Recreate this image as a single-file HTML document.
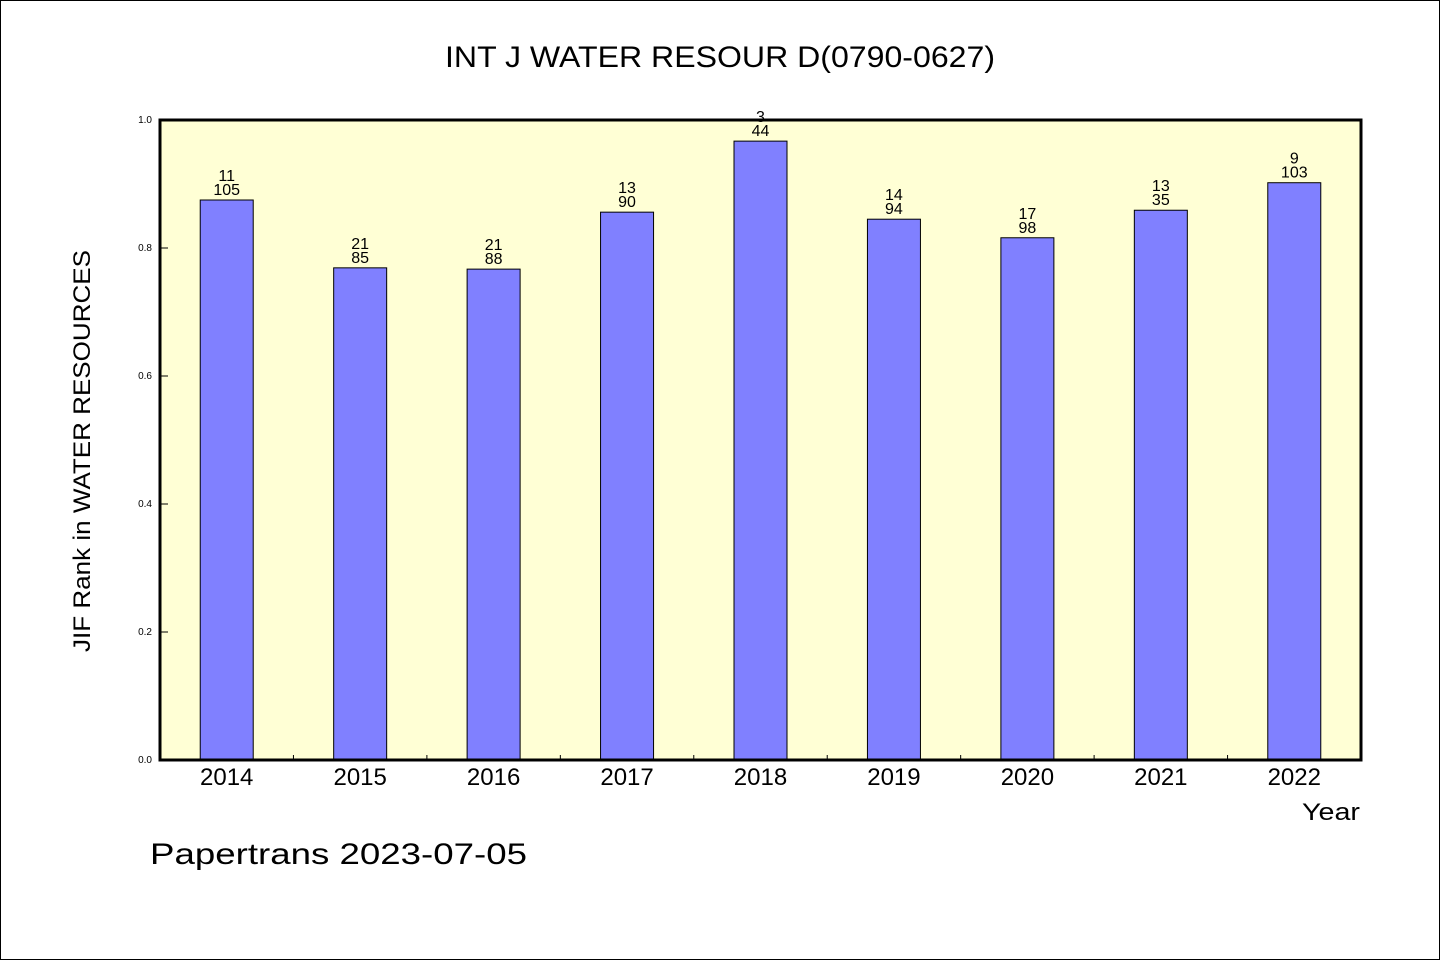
<!DOCTYPE html>
<html><head><meta charset="utf-8"><style>
html,body{margin:0;padding:0;background:#fff}
svg{display:block;font-family:"Liberation Sans","WenQuanYi Zen Hei",sans-serif}
</style></head><body>
<svg id="chart" width="1440" height="960" viewBox="0 0 1440 960">
<rect x="0.5" y="0.5" width="1439" height="959" fill="#fff" stroke="#000"/>
<text x="720" y="67" text-anchor="middle" font-size="30" textLength="550" lengthAdjust="spacingAndGlyphs">INT J WATER RESOUR D(0790-0627)</text>
<rect x="160" y="120" width="1201" height="640" fill="#ffffd5"/>
<g id="bars"></g>
<g id="yaxis"></g>
<g id="xaxis"></g>
<rect x="160" y="120" width="1201" height="640" fill="none" stroke="#000" stroke-width="3"/>
<text transform="translate(90,451) rotate(-90)" text-anchor="middle" font-size="24" textLength="402" lengthAdjust="spacingAndGlyphs">JIF Rank in WATER RESOURCES</text>
<text x="1360" y="820" text-anchor="end" font-size="24" textLength="58" lengthAdjust="spacingAndGlyphs">Year</text>
<text x="150" y="864" font-size="30" textLength="377" lengthAdjust="spacingAndGlyphs">Papertrans 2023-07-05</text>
</svg>
<script>
const years=["2014","2015","2016","2017","2018","2019","2020","2021","2022"];
const values=[0.875,0.769,0.767,0.856,0.967,0.845,0.816,0.859,0.902];
const ranks=["11","21","21","13","3","14","17","13","9"];
const totals=["105","85","88","90","44","94","98","35","103"];
const yTicks=[0,0.2,0.4,0.6,0.8,1.0];
const NS="http://www.w3.org/2000/svg";
const X0=160,W=1201,Y0=760,H=640;
const band=W/years.length;
const xc=i=>X0+band*(i+0.5);
const yv=v=>Y0-v*H;
function mk(tag,attrs,parent,txt){const e=document.createElementNS(NS,tag);for(const k in attrs)e.setAttribute(k,attrs[k]);if(txt!==undefined)e.textContent=txt;parent.appendChild(e);return e;}
const gb=document.getElementById('bars'),gy=document.getElementById('yaxis'),gx=document.getElementById('xaxis');
const bw=53;
years.forEach((yr,i)=>{
  const top=yv(values[i]);
  const r=mk('rect',{x:xc(i)-bw/2,y:top,width:bw,height:Y0-top,fill:'#8080ff',stroke:'#000','stroke-width':1},gb);
  
  
  const t1=mk('text',{x:xc(i),y:top-19,'text-anchor':'middle','font-size':16},gb,ranks[i]);
  
  
  const t2=mk('text',{x:xc(i),y:top-5,'text-anchor':'middle','font-size':16},gb,totals[i]);
  
  
  const xl=mk('text',{x:xc(i),y:785,'text-anchor':'middle','font-size':24},gx,yr);
  
  
  if(i>0){const tk=mk('line',{x1:X0+band*i,x2:X0+band*i,y1:Y0,y2:Y0-5,stroke:'#000'},gx);
  
  }
});
yTicks.forEach(v=>{
  const tk=mk('line',{x1:X0,x2:X0+8,y1:yv(v),y2:yv(v),stroke:'#000'},gy);
  
  
  const tl=mk('text',{x:X0-8,y:yv(v)+3,'text-anchor':'end','font-size':10},gy,v.toFixed(1));
  
  
});
</script>
</body></html>
